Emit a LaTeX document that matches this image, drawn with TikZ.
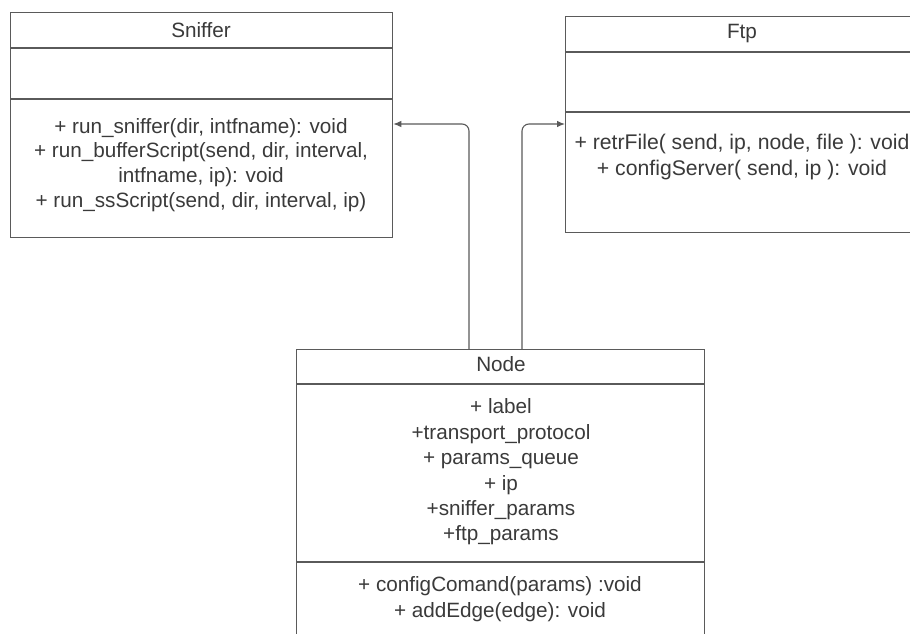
\documentclass[tikz,border=0pt]{standalone}
\usepackage{fontspec}
\setmainfont{Liberation Sans}
\usetikzlibrary{arrows.meta}
\definecolor{edge}{HTML}{5A5A5A}
\definecolor{ink}{HTML}{3A3A3A}
\begin{document}
\begin{tikzpicture}[x=1pt,y=-1pt,
  classbox/.style={draw=edge, line width=1.3pt, fill=none, inner sep=0pt, anchor=north west},
  divider/.style={draw=edge, line width=1.3pt},
  txt/.style={text=ink, font=\fontsize{20.7}{24.8}\selectfont, align=center, inner sep=0pt},
  conn/.style={draw=edge, line width=1.1pt, rounded corners=7pt, -{Latex[length=8pt,width=6.5pt]}}]
\useasboundingbox (0,0) rectangle (910,634);
\clip (0,0) rectangle (910,634);
\fill[white] (0,0) rectangle (910,634);

% Sniffer class
\node[classbox, minimum width=382pt, minimum height=225pt] (sniffer) at (10,12) {};
\draw[divider] (10,48) -- (392,48);
\draw[divider] (10,99) -- (392,99);
\node[txt] (snifferName) at (201,30) {Sniffer};
\node[txt] (snifferOps) at (201,165) {+ run\_sniffer(dir, intfname): void\\
  + run\_bufferScript(send, dir, interval,\\ intfname, ip): void\\
  + run\_ssScript(send, dir, interval, ip)};

% Ftp class (runs on past the right margin)
\node[classbox, minimum width=400pt, minimum height=216pt] (ftp) at (565,16) {};
\draw[divider] (565,52) -- (965,52);
\draw[divider] (565,112) -- (965,112);
\node[txt] (ftpName) at (742,34) {Ftp};
\node[txt, font=\fontsize{21.2}{26}\selectfont] (ftpOps) at (742,157) {+ retrFile( send, ip, node, file ): void\\
  + configServer( send, ip ): void};

% Node class (runs on past the bottom margin)
\node[classbox, minimum width=408pt, minimum height=320pt] (nodeCls) at (296,349) {};
\draw[divider] (296,384) -- (704,384);
\draw[divider] (296,562) -- (704,562);
\node[txt] (nodeName) at (501,364) {Node};
\node[txt, font=\fontsize{20.7}{25.4}\selectfont] (nodeAttrs) at (501,472) {+ label\\ +transport\_protocol\\ + params\_queue\\ + ip\\ +sniffer\_params\\ +ftp\_params};
\node[txt, font=\fontsize{20.7}{26}\selectfont] (nodeOps) at (500,599) {+ configComand(params) :void\\ + addEdge(edge): void};

% Associations
\coordinate (turnA) at (469,124);
\coordinate (turnB) at (522,124);
\draw[conn] (nodeCls.north -| turnA) |- (sniffer.east |- turnA);
\draw[conn] (nodeCls.north -| turnB) |- (ftp.west |- turnB);
\end{tikzpicture}
\end{document}
